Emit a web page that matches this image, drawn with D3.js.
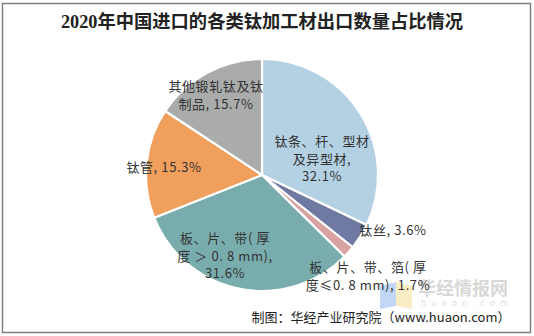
<!DOCTYPE html>
<html>
<head>
<meta charset="utf-8">
<script src="https://cdn.jsdelivr.net/npm/d3@7/dist/d3.min.js"></script>
<style>
  html, body { margin: 0; padding: 0; background: #fff; }
  svg { display: block; }
</style>
</head>
<body>
<svg id="chart" width="534" height="336"></svg>
<script>
// Export categories (clockwise from 12 o'clock) and their shares, in %
const categories = [
  "钛条、杆、型材及异型材",
  "钛丝",
  "板、片、带、箔(厚度≤0.8mm)",
  "板、片、带(厚度＞0.8mm)",
  "钛管",
  "其他锻轧钛及钛制品"
];
const shares = [32.1, 3.6, 1.7, 31.6, 15.3, 15.7];
const colors = ["#b4d1e4", "#6f79a1", "#d8a2a2", "#79adad", "#f09f5d", "#aaacac"];

// Label lines for each slice, with the last line carrying the value
const labelLines = [
  ["钛条、杆、型材", "及异型材,", "{v}"],
  ["钛丝, {v}"],
  ["板、片、带、箔( 厚", "度≤0. 8 mm), {v}"],
  ["板、片、带( 厚", "度 ＞ 0. 8 mm),", "{v}"],
  ["钛管, {v}"],
  ["其他锻轧钛及钛", "制品, {v}"]
];
// Label anchor (baseline centre of first line) relative to the pie centre
const labelAnchors = [
  [60, -29], [131, 60], [106, 97], [-37, 68], [-98, -3], [-46, -84]
];

const W = 534, H = 336;
const cx = 262, cy = 175, R = 116;
const svg = d3.select("#chart");

// frame
svg.append("rect")
  .attr("x", 2.5).attr("y", 3.5).attr("width", 528).attr("height", 329)
  .attr("fill", "#fff").attr("stroke", "#7f7f7f").attr("stroke-width", 1.5);

// title
svg.append("text")
  .attr("x", 262).attr("y", 28)
  .attr("text-anchor", "middle")
  .attr("font-family", "'Liberation Serif', 'Noto Sans CJK SC', serif")
  .attr("font-weight", "bold")
  .attr("font-size", 18.3)
  .attr("fill", "#222")
  .text("2020年中国进口的各类钛加工材出口数量占比情况");

const data = categories.map((c, i) => ({ name: c, value: shares[i], color: colors[i], idx: i }));

const pie = d3.pie().value(d => d.value).sort(null);
const arc = d3.arc().innerRadius(0).outerRadius(R);
const arcs = pie(data);

const g = svg.append("g").attr("transform", `translate(${cx},${cy})`);
g.selectAll("path.slice")
  .data(arcs)
  .join("path")
  .attr("class", "slice")
  .attr("d", arc)
  .attr("fill", d => d.data.color)
  .attr("stroke", "#fff")
  .attr("stroke-width", 2.2)
  .attr("stroke-linejoin", "round");

// watermark logo (drawn beneath labels)
const wm = svg.append("g").attr("opacity", 0.55);
wm.append("path").attr("d", "M380,286 L396,282 L396,306 L380,309 Z").attr("fill", "#8fb7ee");
wm.append("path").attr("d", "M396,282 L412,286 L412,309 L396,306 Z").attr("fill", "#f7df96");
wm.append("text")
  .attr("x", 418).attr("y", 295)
  .attr("font-family", "'Noto Sans CJK SC', sans-serif")
  .attr("font-weight", "bold")
  .attr("font-size", 18)
  .attr("fill", "#b9b9b9")
  .text("华经情报网");
wm.append("text")
  .attr("x", 421).attr("y", 305.5)
  .attr("font-family", "'DejaVu Sans', sans-serif")
  .attr("font-size", 8)
  .attr("letter-spacing", 5.3)
  .attr("fill", "#c4c4c4")
  .text("huaon.com");

// slice labels
const labels = svg.append("g")
  .attr("font-family", "'Noto Sans CJK SC', 'Liberation Sans', sans-serif")
  .attr("font-size", 13)
  .attr("letter-spacing", 0.6)
  .attr("fill", "#333");
arcs.forEach((a, i) => {
  const [dx, dy] = labelAnchors[i];
  const t = labels.append("text")
    .attr("x", cx + dx).attr("y", cy + dy)
    .attr("text-anchor", "middle");
  labelLines[i].forEach((ln, k) => {
    t.append("tspan")
      .attr("x", cx + dx)
      .attr("dy", k === 0 ? 0 : 17.5)
      .text(ln.replace("{v}", d3.format(".1f")(a.data.value) + "%"));
  });
});

// source line
svg.append("text")
  .attr("x", 381).attr("y", 321.5)
  .attr("text-anchor", "middle")
  .attr("font-family", "'Noto Sans CJK SC', 'Liberation Sans', sans-serif")
  .attr("font-size", 13)
  .attr("fill", "#222")
  .text("制图：华经产业研究院（www.huaon.com）");
</script>
</body>
</html>
